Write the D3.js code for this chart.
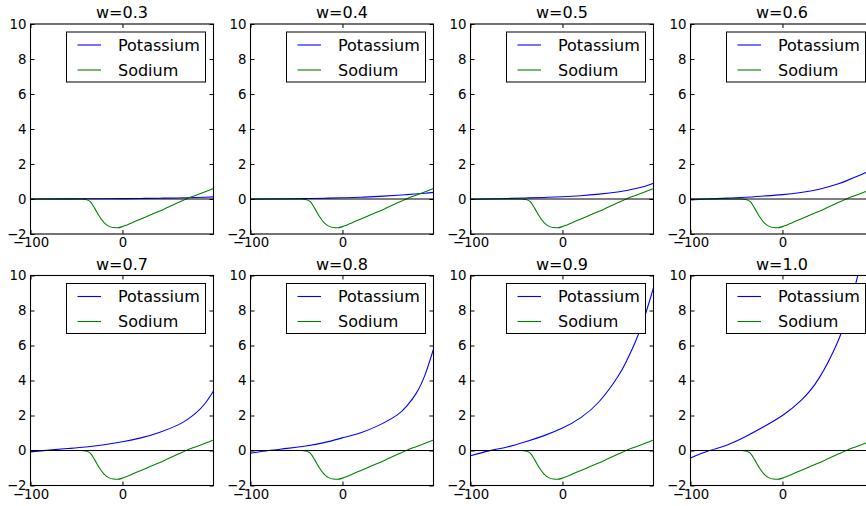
<!DOCTYPE html>
<html>
<head>
<meta charset="utf-8">
<script src="https://cdn.jsdelivr.net/npm/d3@7"></script>
<style>
  body { margin: 0; background: #fff; }
  text { font-family: "DejaVu Sans", sans-serif; fill: #000; }
</style>
</head>
<body>
<svg id="chart" width="866" height="506"></svg>
<script>
// Panel titles (one panel per weight w)
const panelTitles = ["w=0.3", "w=0.4", "w=0.5", "w=0.6", "w=0.7", "w=0.8", "w=0.9", "w=1.0"];
const seriesNames = ["Potassium", "Sodium"];

// Potassium current, sampled on kX, one array per panel
const kX = [-100, -80, -60, -40, -20, 0, 20, 40, 60, 70, 80, 90, 99];
const potassiumW03 = [-0.01, 0.0, 0.005, 0.01, 0.015, 0.02, 0.03, 0.045, 0.06, 0.072, 0.085, 0.1, 0.12];
const potassiumW04 = [-0.02, 0.0, 0.01, 0.025, 0.045, 0.07, 0.1, 0.15, 0.21, 0.25, 0.29, 0.33, 0.38];
const potassiumW05 = [-0.03, 0.0, 0.03, 0.06, 0.09, 0.13, 0.19, 0.28, 0.4, 0.49, 0.6, 0.73, 0.9];
const potassiumW06 = [-0.05, 0.0, 0.05, 0.1, 0.17, 0.25, 0.37, 0.56, 0.86, 1.05, 1.27, 1.5, 1.72];
const potassiumW07 = [-0.08, 0.02, 0.11, 0.2, 0.33, 0.5, 0.72, 1.03, 1.45, 1.75, 2.15, 2.7, 3.4];
const potassiumW08 = [-0.15, 0.0, 0.12, 0.26, 0.45, 0.72, 1.02, 1.45, 2.05, 2.55, 3.25, 4.35, 5.8];
const potassiumW09 = [-0.3, -0.02, 0.2, 0.5, 0.85, 1.28, 1.88, 2.8, 4.2, 5.15, 6.3, 7.75, 9.3];
const potassiumW10 = [-0.43, -0.02, 0.32, 0.8, 1.37, 2.0, 2.85, 4.15, 6.2, 7.7, 9.6, 11.9, 14.3];
const potassiumByPanel = [potassiumW03, potassiumW04, potassiumW05, potassiumW06,
                          potassiumW07, potassiumW08, potassiumW09, potassiumW10];

// Sodium current (same in every panel), sampled on naX
const naX = [-100, -80, -60, -45, -40, -35, -30, -25, -20, -15, -10, -5, 0, 5, 10, 20, 30, 40, 50, 60, 70, 80, 90, 99];
const sodium = [0, 0, 0, 0, -0.03, -0.15, -0.55, -1.0, -1.35, -1.55, -1.63, -1.64, -1.58, -1.48, -1.37, -1.14, -0.92, -0.7, -0.46, -0.22, 0.02, 0.22, 0.42, 0.6];

// Axis settings
const xDomain = [-100, 99];
const yDomain = [-2, 10];
const xTicks = [-100, 0];
const yTicks = [-2, 0, 2, 4, 6, 8, 10];

// Grid layout
const nCols = 4;
const colLeft0 = 30.5, colPitch = 220, axW = 183;
const rowTop = [24, 275.5], axH = 210;

const colors = { Potassium: "#0000ff", Sodium: "#008000" };

const svg = d3.select("#chart");
const x = d3.scaleLinear().domain(xDomain).range([0, axW]);
const y = d3.scaleLinear().domain(yDomain).range([axH, 0]);

const kLine = d3.line()
  .x(d => x(d[0]))
  .y(d => y(d[1]))
  .curve(d3.curveNatural);
const naLine = d3.line()
  .x(d => x(d[0]))
  .y(d => y(d[1]))
  .curve(d3.curveMonotoneX);

panelTitles.forEach((title, i) => {
  const col = i % nCols, row = Math.floor(i / nCols);
  const left = colLeft0 + col * colPitch, top = rowTop[row];
  const g = svg.append("g").attr("transform", `translate(${left},${top})`);

  const clipId = "clip" + i;
  g.append("clipPath").attr("id", clipId)
    .append("rect").attr("width", axW).attr("height", axH);

  const plot = g.append("g").attr("clip-path", `url(#${clipId})`);

  const kData = kX.map((xv, j) => [xv, potassiumByPanel[i][j]]);
  const naData = naX.map((xv, j) => [xv, sodium[j]]);

  plot.append("path").datum(kData)
    .attr("d", kLine).attr("fill", "none")
    .attr("stroke", colors.Potassium).attr("stroke-width", 1.1);
  plot.append("path").datum(naData)
    .attr("d", naLine).attr("fill", "none")
    .attr("stroke", colors.Sodium).attr("stroke-width", 1.1);

  // horizontal reference line at zero
  plot.append("line")
    .attr("x1", 0).attr("x2", axW)
    .attr("y1", y(0)).attr("y2", y(0))
    .attr("stroke", "#000").attr("stroke-width", 1.1);

  // axes with inward ticks on all four sides
  const styleAxis = sel => {
    sel.select(".domain").remove();
    sel.selectAll(".tick line").attr("stroke", "#000").attr("stroke-width", 1);
    sel.selectAll(".tick text").style("font-family", "'DejaVu Sans', sans-serif")
      .style("font-size", "13.3px").attr("fill", "#000");
  };
  g.append("g").attr("transform", `translate(0,${axH})`)
    .call(d3.axisBottom(x).tickValues(xTicks).tickSize(-4).tickPadding(4))
    .call(styleAxis);
  g.append("g")
    .call(d3.axisTop(x).tickValues(xTicks).tickSize(-4).tickFormat(""))
    .call(styleAxis);
  g.append("g")
    .call(d3.axisLeft(y).tickValues(yTicks).tickSize(-4).tickPadding(4))
    .call(styleAxis);
  g.append("g").attr("transform", `translate(${axW},0)`)
    .call(d3.axisRight(y).tickValues(yTicks).tickSize(-4).tickFormat(""))
    .call(styleAxis);

  // frame
  g.append("rect").attr("width", axW).attr("height", axH)
    .attr("fill", "none").attr("stroke", "#000").attr("stroke-width", 1.1);

  // title
  g.append("text").attr("x", axW / 2).attr("y", -6)
    .attr("text-anchor", "middle").style("font-size", "16px").text(title);

  // legend, upper right
  const legW = 139, legH = 50;
  const leg = g.append("g").attr("transform", `translate(${axW - 8 - legW},8)`);
  leg.append("rect").attr("width", legW).attr("height", legH)
    .attr("fill", "#fff").attr("stroke", "#000").attr("stroke-width", 1);
  seriesNames.forEach((name, k) => {
    const cy = 13 + k * 25;
    leg.append("line").attr("x1", 11).attr("x2", 34.5).attr("y1", cy).attr("y2", cy)
      .attr("stroke", colors[name]).attr("stroke-width", 1.1);
    leg.append("text").attr("x", 51.5).attr("y", cy).attr("dy", "0.36em")
      .style("font-size", "16px").text(name);
  });
});
</script>
</body>
</html>
